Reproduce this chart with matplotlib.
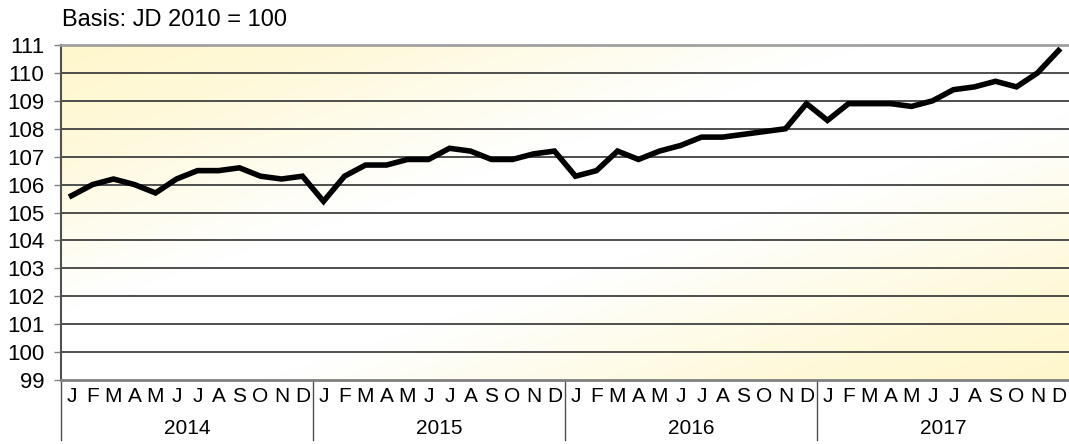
import numpy as np
import matplotlib
matplotlib.use("Agg")
import matplotlib.pyplot as plt
from matplotlib.colors import LinearSegmentedColormap
from matplotlib.transforms import blended_transform_factory

plt.rcParams["font.family"] = ["Liberation Sans", "DejaVu Sans"]

# %% data
years = ["2014", "2015", "2016", "2017"]
month_letters = ["J", "F", "M", "A", "M", "J", "J", "A", "S", "O", "N", "D"]
index_2014 = [105.6, 106.0, 106.2, 106.0, 105.7, 106.2, 106.5, 106.5, 106.6, 106.3, 106.2, 106.3]
index_2015 = [105.4, 106.3, 106.7, 106.7, 106.9, 106.9, 107.3, 107.2, 106.9, 106.9, 107.1, 107.2]
index_2016 = [106.3, 106.5, 107.2, 106.9, 107.2, 107.4, 107.7, 107.7, 107.8, 107.9, 108.0, 108.9]
index_2017 = [108.3, 108.9, 108.9, 108.9, 108.8, 109.0, 109.4, 109.5, 109.7, 109.5, 110.0, 110.8]
y_ticks = list(range(99, 112))

values = np.array(index_2014 + index_2015 + index_2016 + index_2017)
x_pos = np.arange(len(values)) + 0.5

# %% figure
W, H = 1069, 444
fig = plt.figure(figsize=(W / 100, H / 100), dpi=100)
ax = fig.add_axes([61 / W, (H - 380) / H, 1008 / W, 335 / H])

# diagonal gradient background: pale yellow corners, white band through middle
u, v = np.meshgrid(np.linspace(0, 1, 300), np.linspace(0, 1, 200))
t = (u + v) / 2  # v runs top->bottom with origin="upper"
grad = np.abs(t - 0.5) * 2
cmap = LinearSegmentedColormap.from_list(
    "bg", [(0.0, "#FFFFFF"), (0.2, "#FFFFFF"), (0.7, "#FEF9DA"), (1.0, "#FFF7CC")])
ax.imshow(grad, cmap=cmap, extent=[0, 1, 0, 1], transform=ax.transAxes,
          origin="upper", aspect="auto", zorder=0, vmin=0, vmax=1)

ax.set_xlim(0, len(values))
ax.set_ylim(99, 111)
ax.set_yticks(y_ticks)
for yv in y_ticks[1:-1]:
    ax.axhline(yv, color="#404040", linewidth=1.3, zorder=1)

ax.plot(x_pos, values, color="black", linewidth=4, solid_joinstyle="miter", zorder=3)

ax.spines["right"].set_visible(False)
ax.spines["top"].set_color("#a0a0a0")
ax.spines["top"].set_linewidth(2)
ax.spines["left"].set_color("#505050")
ax.spines["left"].set_linewidth(1.5)
ax.spines["bottom"].set_color("#808080")
ax.spines["bottom"].set_linewidth(2)

ax.tick_params(axis="y", direction="out", length=5, width=1, color="#808080",
               labelsize=16, pad=7)
ax.set_xticks([])

# category axis: months and years
trans = blended_transform_factory(ax.transData, ax.transAxes)
for yi, year in enumerate(years):
    for mi, m in enumerate(month_letters):
        ax.text(yi * 12 + mi + 0.5, -0.05, m, transform=trans, ha="center",
                va="center", fontsize=15)
    ax.text(yi * 12 + 6, -0.145, year, transform=trans, ha="center",
            va="center", fontsize=15)
    ax.plot([yi * 12, yi * 12], [0, -0.18], transform=trans, color="#505050",
            linewidth=1, clip_on=False)

fig.text(62 / W, 1 - 20 / H, "Basis: JD 2010 = 100", ha="left", va="center",
         fontsize=17)

fig.savefig("out.png", dpi=100)
